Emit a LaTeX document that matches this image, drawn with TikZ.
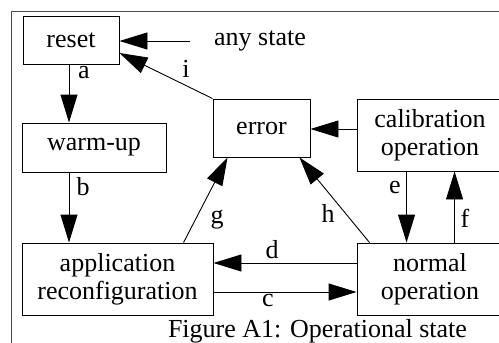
\documentclass[tikz,border=0pt]{standalone}
\usepackage{fontspec}
\setmainfont{Liberation Serif}
\usetikzlibrary{arrows.meta,calc}
\begin{document}
\begin{tikzpicture}[x=1pt,y=-1pt,
  box/.style={draw,line width=0.9pt,inner sep=0pt,align=center,font=\fontsize{26}{28}\selectfont},
  lbl/.style={inner sep=0pt,font=\fontsize{26}{28}\selectfont},
  conn/.style={line width=0.9pt,-{Triangle[length=28pt,width=17pt]}}]
\useasboundingbox (0,0) rectangle (499,343);
\clip (0,0) rectangle (499,343);
\draw[black!70,line width=1.3pt] (11.5,11.5) rectangle (540,380);
\node[box,minimum width=96pt,minimum height=48pt] (reset) at (71,40) {reset};
\node[box,minimum width=144pt,minimum height=49pt] (warm) at (94,147.5) {warm-up};
\node[box,minimum width=191pt,minimum height=72pt] (app) at (117.5,279) {application\\reconfiguration};
\node[box,minimum width=97pt,minimum height=58pt] (err) at (261.5,128) {error};
\node[box,minimum width=146pt,minimum height=72pt] (cal) at (430,135) {calibration\\operation};
\node[box,minimum width=146pt,minimum height=72pt] (nor) at (430,279) {normal\\operation};
\node[lbl,anchor=west] (any) at (214,41) {any state};
\node[lbl,anchor=base] (cap) at (317.5,337) {Figure A1: Operational state};
\coordinate (anyarr) at (190,41);
% connectors
\draw[conn] (anyarr) -- (anyarr -| reset.east);
\draw[conn] (reset.south -| 69,0) -- (69,0 |- warm.north);
\draw[conn] (warm.south -| 69,0) -- (69,0 |- app.north);
\draw[conn] (err.north west) -- ($(reset.east)+(0,13)$);
\draw[conn] (cal.west |- 0,129) -- (err.east |- 0,129);
\draw[conn] ($(app.north west)+(162,0)$) -- ($(err.south west)+(15,0)$);
\draw[conn] ($(nor.north west)+(13,0)$) -- ($(err.south east)+(-11,0)$);
\draw[conn] ($(nor.west)+(0,-16)$) -- ($(app.east)+(0,-16)$);
\draw[conn] ($(app.east)+(0,13)$) -- ($(nor.west)+(0,13)$);
\draw[conn] ($(cal.south west)+(50,0)$) -- ($(nor.north west)+(50,0)$);
\draw[conn] ($(nor.north west)+(98,0)$) -- ($(cal.south west)+(98,0)$);
% labels
\node[lbl] (la) at (84,73) {a};
\node[lbl] (lb) at (83,187) {b};
\node[lbl] (lc) at (268,300) {c};
\node[lbl] (ld) at (272,250) {d};
\node[lbl] (le) at (395,187) {e};
\node[lbl] (lf) at (465,218) {f};
\node[lbl] (lg) at (217,220) {g};
\node[lbl] (lh) at (328,213) {h};
\node[lbl] (li) at (186,69) {i};
\end{tikzpicture}
\end{document}
